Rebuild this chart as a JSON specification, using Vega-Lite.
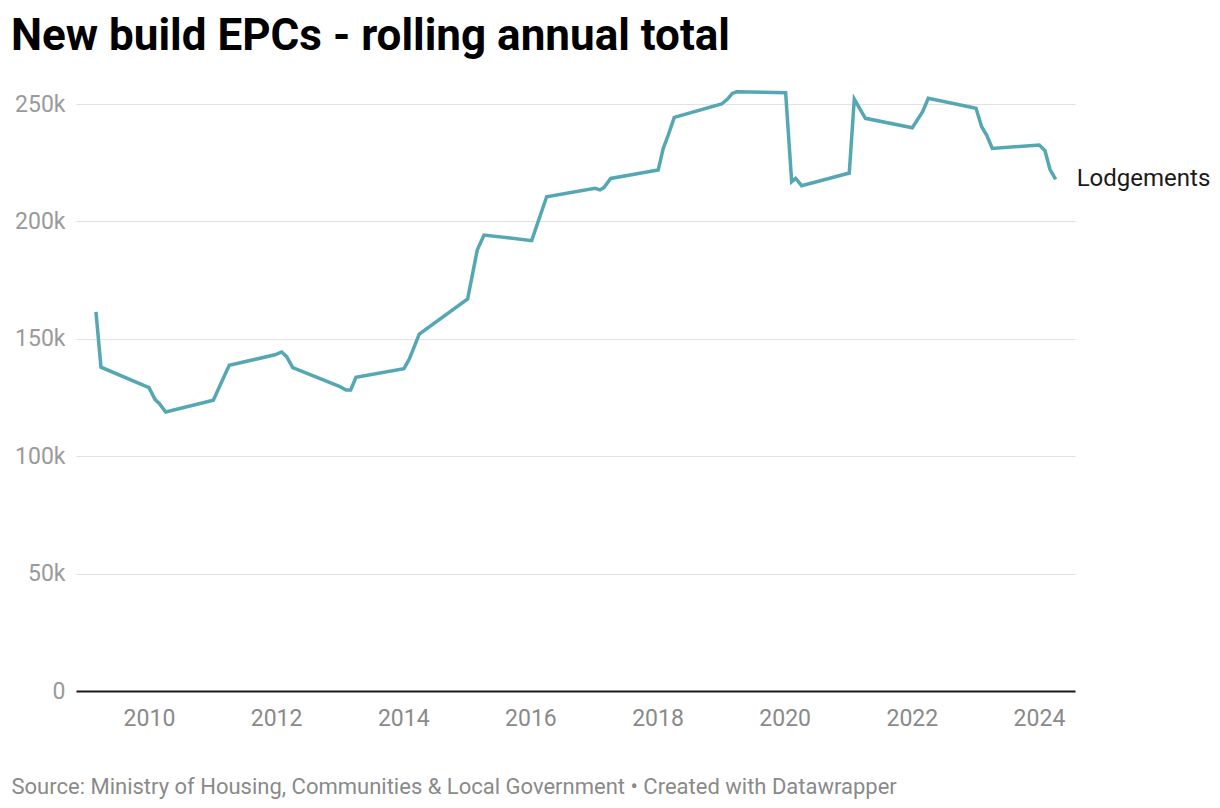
{
  "$schema": "https://vega.github.io/schema/vega-lite/v6.json",
  "width": 999,
  "height": 587,
  "autosize": "none",
  "padding": {"left": 76, "top": 104, "right": 145, "bottom": 117},
  "background": "white",
  "title": {
    "text": "New build EPCs - rolling annual total",
    "anchor": "start",
    "dx": 0,
    "offset": 26
  },
  "config": {
    "view": {"stroke": null},
    "font": "Roboto",
    "title": {"font": "Roboto", "fontSize": 44, "fontWeight": "bold", "color": "#000000"}
  },
  "data": {
    "values": [
      {"year": 2009.166, "value": 161500},
      {"year": 2009.245, "value": 137900},
      {"year": 2010.0, "value": 129200},
      {"year": 2010.094, "value": 124200},
      {"year": 2010.162, "value": 122500},
      {"year": 2010.263, "value": 118800},
      {"year": 2011.012, "value": 123800},
      {"year": 2011.169, "value": 133200},
      {"year": 2011.263, "value": 138700},
      {"year": 2011.982, "value": 143200},
      {"year": 2012.087, "value": 144400},
      {"year": 2012.166, "value": 142400},
      {"year": 2012.261, "value": 137700},
      {"year": 2013.005, "value": 129600},
      {"year": 2013.099, "value": 128200},
      {"year": 2013.173, "value": 128200},
      {"year": 2013.256, "value": 133600},
      {"year": 2014.011, "value": 137300},
      {"year": 2014.094, "value": 141300},
      {"year": 2014.252, "value": 152000},
      {"year": 2015.013, "value": 167000},
      {"year": 2015.164, "value": 187800},
      {"year": 2015.27, "value": 194200},
      {"year": 2016.02, "value": 191800},
      {"year": 2016.256, "value": 210500},
      {"year": 2017.016, "value": 214100},
      {"year": 2017.095, "value": 213400},
      {"year": 2017.157, "value": 214400},
      {"year": 2017.263, "value": 218300},
      {"year": 2018.011, "value": 221900},
      {"year": 2018.09, "value": 231100},
      {"year": 2018.169, "value": 236800},
      {"year": 2018.263, "value": 244300},
      {"year": 2019.008, "value": 250000},
      {"year": 2019.097, "value": 252000},
      {"year": 2019.176, "value": 254500},
      {"year": 2019.244, "value": 255200},
      {"year": 2020.015, "value": 254800},
      {"year": 2020.11, "value": 216900},
      {"year": 2020.173, "value": 218300},
      {"year": 2020.267, "value": 215200},
      {"year": 2021.016, "value": 220600},
      {"year": 2021.095, "value": 252100},
      {"year": 2021.27, "value": 243900},
      {"year": 2022.007, "value": 239900},
      {"year": 2022.17, "value": 246700},
      {"year": 2022.259, "value": 252400},
      {"year": 2023.01, "value": 248200},
      {"year": 2023.099, "value": 240300},
      {"year": 2023.177, "value": 236800},
      {"year": 2023.266, "value": 231100},
      {"year": 2024.005, "value": 232500},
      {"year": 2024.095, "value": 230100},
      {"year": 2024.173, "value": 222200},
      {"year": 2024.263, "value": 217900}
    ]
  },
  "encoding": {
    "x": {
      "field": "year",
      "type": "quantitative",
      "scale": {"domain": [2008.852, 2024.567], "nice": false, "zero": false},
      "axis": {
        "title": "Source: Ministry of Housing, Communities & Local Government • Created with Datawrapper",
        "titleFont": "Roboto",
        "titleFontSize": 22,
        "titleFontWeight": "normal",
        "titleColor": "#8a8a8a",
        "titleAnchor": "start",
        "titleAlign": "left",
        "titleBaseline": "alphabetic",
        "titleX": -65,
        "titleY": 102,
        "values": [2010, 2012, 2014, 2016, 2018, 2020, 2022, 2024],
        "format": "d",
        "grid": false,
        "ticks": false,
        "domain": true,
        "domainColor": "#1a1a1a",
        "domainWidth": 2,
        "labelFont": "Roboto",
        "labelFontSize": 23,
        "labelColor": "#8a8a8a",
        "labelPadding": 16
      }
    },
    "y": {
      "field": "value",
      "type": "quantitative",
      "scale": {"domain": [0, 250000], "nice": false},
      "axis": {
        "title": null,
        "values": [0, 50000, 100000, 150000, 200000, 250000],
        "labelExpr": "datum.value == 0 ? '0' : format(datum.value / 1000, 'd') + 'k'",
        "grid": true,
        "gridColor": "#e2e2e2",
        "gridWidth": 1,
        "ticks": false,
        "domain": false,
        "labelFont": "Roboto",
        "labelFontSize": 23,
        "labelColor": "#9a9a9a",
        "labelPadding": 11
      }
    }
  },
  "layer": [
    {
      "mark": {"type": "line", "color": "#54a7b3", "strokeWidth": 3.5, "clip": false}
    },
    {
      "transform": [{"filter": "datum.year > 2024.2"}],
      "mark": {"type": "text", "text": "Lodgements", "align": "left", "baseline": "middle", "dx": 21, "font": "Roboto", "fontSize": 24, "color": "#1a1a1a"}
    }
  ]
}
